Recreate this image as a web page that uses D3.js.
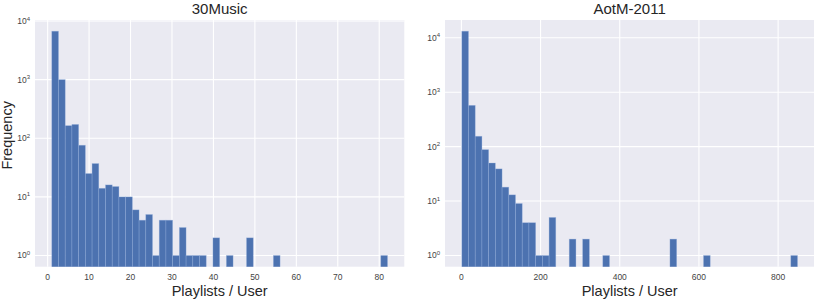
<!DOCTYPE html>
<html><head><meta charset="utf-8">
<script src="https://cdn.jsdelivr.net/npm/d3@7"></script>
<style>body{margin:0;background:#fff}svg{display:block}text{font-family:"Liberation Sans",Arial,sans-serif}</style>
</head><body>
<svg id="c" width="814" height="299"></svg>
<script>
// ---- data ----
const titles = ["30Music", "AotM-2011"];
const xLabel = "Playlists / User";
const yLabel = "Frequency";
// histogram: 50 equal-width bins between min and max
const binRange30 = [1, 82];
const counts30 = [6700, 1000, 164, 172, 76, 25, 37, 14, 16, 15,
                  10, 10, 6, 4, 5, 1, 4, 4, 1, 3,
                  1, 1, 1, 0, 2, 0, 1, 0, 0, 2,
                  0, 0, 0, 1, 0, 0, 0, 0, 0, 0,
                  0, 0, 0, 0, 0, 0, 0, 0, 0, 1];
const binRangeAotM = [1, 849];
const countsAotM = [13200, 573, 155, 88, 50, 39, 18, 13, 9, 4,
                    4, 1, 1, 5, 0, 0, 2, 0, 2, 0,
                    0, 1, 0, 0, 0, 0, 0, 0, 0, 0,
                    0, 2, 0, 0, 0, 0, 1, 0, 0, 0,
                    0, 0, 0, 0, 0, 0, 0, 0, 0, 1];
const xTicks30 = [0, 10, 20, 30, 40, 50, 60, 70, 80];
const xTicksAotM = [0, 200, 400, 600, 800];
const yTicks = [1, 10, 100, 1000, 10000];

const svg = d3.select("#c");
const panels = [
  {title: titles[0], range: binRange30, counts: counts30, xt: xTicks30, x0: 35, x1: 404.3},
  {title: titles[1], range: binRangeAotM, counts: countsAotM, xt: xTicksAotM, x0: 445, x1: 814.3}
];
const plotTop = 20, plotBottom = 266.7;

panels.forEach((p, pi) => {
  const n = p.counts.length;
  const lo = p.range[0], hi = p.range[1];
  const w = (hi - lo) / n;
  const m = (hi - lo) * 0.05;
  const x = d3.scaleLinear().domain([lo - m, hi + m]).range([p.x0, p.x1]);
  const maxC = d3.max(p.counts);
  const lmax = Math.log10(maxC);
  const lm = lmax * 0.05;
  const y = d3.scaleLog().domain([Math.pow(10, -lm), Math.pow(10, lmax + lm)]).range([plotBottom, plotTop]);

  const g = svg.append("g");
  const cid = "clip" + pi;
  svg.append("clipPath").attr("id", cid).append("rect")
    .attr("x", p.x0).attr("y", plotTop).attr("width", p.x1 - p.x0).attr("height", plotBottom - plotTop);
  g.append("rect").attr("x", p.x0).attr("y", plotTop).attr("width", p.x1 - p.x0).attr("height", plotBottom - plotTop).attr("fill", "#EAEAF2");

  // grid
  g.selectAll(".gx").data(p.xt).join("line")
    .attr("x1", d => x(d)).attr("x2", d => x(d)).attr("y1", plotTop).attr("y2", plotBottom)
    .attr("stroke", "#fff").attr("stroke-width", 1.1);
  g.selectAll(".gy").data(yTicks).join("line")
    .attr("x1", p.x0).attr("x2", p.x1).attr("y1", d => y(d)).attr("y2", d => y(d))
    .attr("stroke", "#fff").attr("stroke-width", 1.1);

  // bars
  const bins = p.counts.map((c, i) => ({c, a: lo + i * w, b: lo + (i + 1) * w})).filter(d => d.c > 0);
  g.append("g").attr("clip-path", `url(#${cid})`).selectAll("rect").data(bins).join("rect")
    .attr("x", d => x(d.a)).attr("width", d => x(d.b) - x(d.a))
    .attr("y", d => y(d.c)).attr("height", d => plotBottom + 2 - y(d.c))
    .attr("fill", "#4C72B0").attr("stroke", "rgba(150,178,222,0.45)").attr("stroke-width", 0.7);

  // x tick labels
  g.selectAll(".xt").data(p.xt).join("text")
    .attr("x", d => x(d)).attr("y", 280).attr("text-anchor", "middle")
    .attr("font-size", 8.5).attr("fill", "#444").text(d => d);
  // y tick labels
  const yl = g.selectAll(".yt").data(yTicks).join("text")
    .attr("x", p.x0 - 5).attr("y", d => y(d) + 3).attr("text-anchor", "end")
    .attr("font-size", 8.5).attr("fill", "#444");
  yl.append("tspan").text("10");
  yl.append("tspan").attr("dy", -3.5).attr("font-size", 6).text(d => Math.round(Math.log10(d)));

  // title
  g.append("text").attr("x", (p.x0 + p.x1) / 2).attr("y", 13.8).attr("text-anchor", "middle")
    .attr("font-size", 15).attr("fill", "#262626").text(p.title);
  // x label
  g.append("text").attr("x", (p.x0 + p.x1) / 2).attr("y", 296).attr("text-anchor", "middle")
    .attr("font-size", 14.5).attr("fill", "#262626").text(xLabel);
  if (pi === 0) {
    g.append("text").attr("transform", `translate(12,${(plotTop + plotBottom) / 2 - 8}) rotate(-90)`)
      .attr("text-anchor", "middle").attr("font-size", 14.5).attr("fill", "#262626").text(yLabel);
  }
});
</script>
</body></html>
